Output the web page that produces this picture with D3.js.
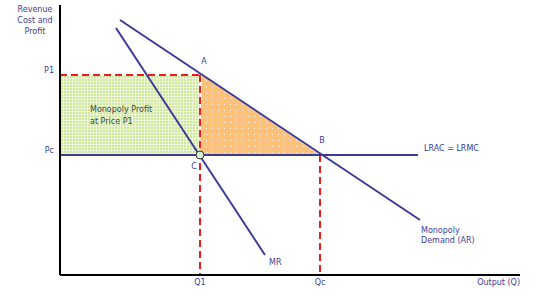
<!DOCTYPE html>
<html><head><meta charset="utf-8">
<script src="https://cdn.jsdelivr.net/npm/d3@7"></script>
<style>body{margin:0;background:#fff}svg{display:block}text{font-family:"DejaVu Sans",Verdana,sans-serif;font-size:8px}</style>
</head><body>
<script>
// Abstract quantity / price units
const priceLabels = ["P1", "Pc"];
const priceValues = [200, 120];
const qtyLabels = ["Q1", "Qc"];
const qtyValues = [140, 260];
const demandLine = [[60, 255], [360, 55]];
const mrLine = [[56, 247], [205, 20]];
const lracLine = [[0, 120], [358, 120]];
const pointA = [142, 200], pointB = [260, 120], pointC = [140, 120];

const W = 540, H = 304;
const x = d3.scaleLinear().domain([0, 460]).range([60, 520]);
const y = d3.scaleLinear().domain([0, 270]).range([275, 5]);
const svg = d3.select("body").append("svg").attr("width", W).attr("height", H);
const navy = "#3b3a96", txt = "#3c3c92";

const defs = svg.append("defs");
const pg = defs.append("pattern").attr("id", "grn").attr("patternUnits", "userSpaceOnUse").attr("width", 3).attr("height", 3);
pg.append("rect").attr("width", 3).attr("height", 3).attr("fill", "#cfe79c");
pg.append("rect").attr("width", 3).attr("height", 1).attr("fill", "#eef7d8");
pg.append("rect").attr("width", 1).attr("height", 3).attr("fill", "#eef7d8");
const po = defs.append("pattern").attr("id", "org").attr("patternUnits", "userSpaceOnUse").attr("width", 6).attr("height", 6);
po.append("rect").attr("width", 6).attr("height", 6).attr("fill", "#fcc27a");
po.append("rect").attr("x", 2).attr("y", 2).attr("width", 1).attr("height", 1).attr("fill", "#fff3e0");

// Profit rectangle
svg.append("rect").attr("x", x(0)).attr("y", y(priceValues[0]))
  .attr("width", x(qtyValues[0]) - x(0)).attr("height", y(priceValues[1]) - y(priceValues[0]))
  .attr("fill", "url(#grn)");
// Deadweight triangle
svg.append("path").attr("d", d3.line()([pointA, pointB, pointC].map(p => [x(p[0]), y(p[1])])) + "Z")
  .attr("fill", "url(#org)");

// Red dashed guides
const dash = (x1, y1, x2, y2) => svg.append("line").attr("x1", x1).attr("y1", y1).attr("x2", x2).attr("y2", y2)
  .attr("stroke", "#ee1c1c").attr("stroke-width", 2).attr("stroke-dasharray", "7,4");
dash(x(0), y(priceValues[0]), x(qtyValues[0]), y(priceValues[0]));
dash(x(qtyValues[0]), y(priceValues[0]), x(qtyValues[0]), y(0));
dash(x(qtyValues[1]), y(priceValues[1]), x(qtyValues[1]), y(0));

// Curves
const ln = d3.line().x(d => x(d[0])).y(d => y(d[1]));
[lracLine, demandLine, mrLine].forEach(d => svg.append("path").attr("d", ln(d))
  .attr("stroke", navy).attr("stroke-width", 2).attr("fill", "none"));

// Point C
svg.append("circle").attr("cx", x(pointC[0])).attr("cy", y(pointC[1])).attr("r", 4)
  .attr("fill", "#dcefd2").attr("stroke", "#333").attr("stroke-width", 1);

// Axes
svg.append("line").attr("x1", x(0)).attr("y1", y(0)).attr("x2", x(460)).attr("y2", y(0)).attr("stroke", "#000").attr("stroke-width", 2);
svg.append("line").attr("x1", x(0)).attr("y1", y(0)).attr("x2", x(0)).attr("y2", y(270)).attr("stroke", "#000").attr("stroke-width", 2);

const t = (s, px, py, anchor = "start", col = txt) => svg.append("text").attr("x", px).attr("y", py)
  .attr("text-anchor", anchor).attr("fill", col).text(s);
["Revenue", "Cost and", "Profit"].forEach((s, i) => t(s, 35, 12 + i * 11, "middle"));
priceLabels.forEach((s, i) => t(s, 54, y(priceValues[i]) - 2, "end"));
qtyLabels.forEach((s, i) => t(s, x(qtyValues[i]), 285, "middle"));
t("Output (Q)", 520, 285, "end");
t("A", 204, 64, "middle");
t("B", 322, 143, "middle");
t("C", 194, 169, "middle");
t("Monopoly Profit", 90, 112, "start", "#444");
t("at Price P1", 90, 124, "start", "#444");
t("LRAC = LRMC", 424, 151);
t("Monopoly", 421, 233);
t("Demand (AR)", 421, 243);
t("MR", 269, 265);
</script>
</body></html>
